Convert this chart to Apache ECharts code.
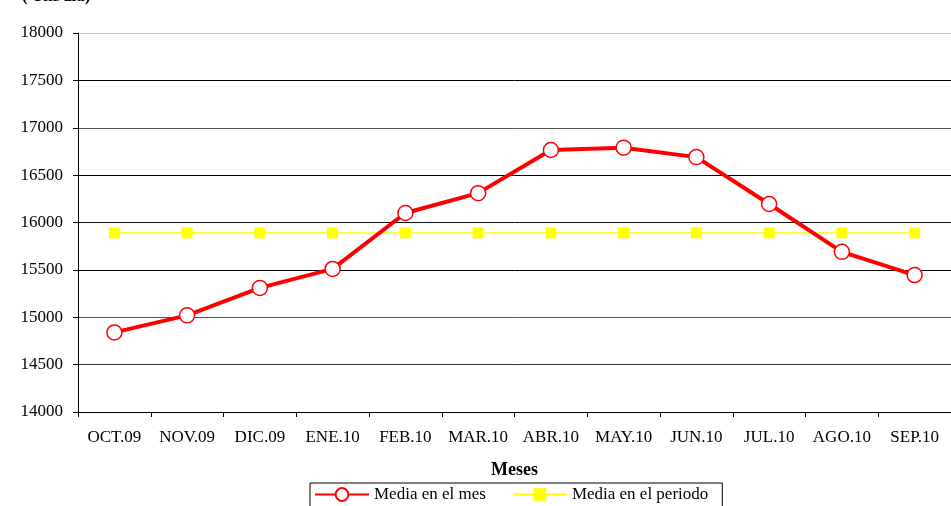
<!DOCTYPE html>
<html>
<head>
<meta charset="utf-8">
<script src="https://cdn.jsdelivr.net/npm/echarts@6/dist/echarts.min.js"></script>
<style>
  html, body { margin: 0; padding: 0; background: #fff; }
  #chart { width: 951px; height: 506px; }
</style>
</head>
<body>
<div id="chart"></div>
<script>
// Monthly average throughput (Tm/día), Oct 2009 – Sep 2010
const months = ['OCT.09', 'NOV.09', 'DIC.09', 'ENE.10', 'FEB.10', 'MAR.10',
                'ABR.10', 'MAY.10', 'JUN.10', 'JUL.10', 'AGO.10', 'SEP.10'];
const monthlyMean = [14840, 15020, 15310, 15510, 16100, 16310,
                     16765, 16790, 16690, 16195, 15690, 15445];
const periodMean = [15890, 15890, 15890, 15890, 15890, 15890,
                    15890, 15890, 15890, 15890, 15890, 15890];
const yTicks = { min: 14000, max: 18000, step: 500 };

const serif = '"Liberation Serif", "Times New Roman", serif';

const chart = echarts.init(document.getElementById('chart'), null, { renderer: 'canvas' });
chart.setOption({
  animation: false,
  backgroundColor: '#fff',
  textStyle: { fontFamily: serif, color: '#000' },
  grid: { left: 78, top: 33, right: -7, bottom: 94, containLabel: false },
  graphic: [
    { type: 'text', left: 22, top: -12,
      style: { text: '( Tm/día)', font: 'bold 17px ' + serif, fill: '#000' } }
  ],
  xAxis: {
    type: 'category',
    data: months,
    boundaryGap: true,
    name: 'Meses',
    nameLocation: 'middle',
    nameGap: 49,
    nameTextStyle: { fontFamily: serif, fontWeight: 'bold', fontSize: 18, color: '#000' },
    axisLine: { lineStyle: { color: '#000', width: 1 } },
    axisTick: { show: true, alignWithLabel: false, length: 5, lineStyle: { color: '#000' } },
    axisLabel: { fontFamily: serif, fontSize: 17, color: '#000', margin: 17, interval: 0 },
    splitLine: { show: false }
  },
  yAxis: {
    type: 'value',
    min: yTicks.min,
    max: yTicks.max,
    interval: yTicks.step,
    axisLine: { show: true, lineStyle: { color: '#000', width: 1 } },
    axisTick: { show: true, length: 5, lineStyle: { color: '#000' } },
    axisLabel: { fontFamily: serif, fontSize: 17, color: '#000', margin: 15,
                 formatter: v => String(v) },
    splitLine: { show: true, lineStyle: {
      color: ['#000', '#333', '#555', '#000', '#111', '#000', '#555', '#000', '#c0c0c0'],
      width: 1 } }
  },
  legend: {
    left: 310,
    top: 483,
    itemGap: 26,
    itemWidth: 54,
    itemHeight: 16,
    padding: [3, 14, 6, 4],
    borderColor: '#000',
    borderWidth: 1,
    borderRadius: 0,
    textStyle: { fontFamily: serif, fontSize: 17, color: '#000' },
    data: ['Media en el mes', 'Media en el periodo']
  },
  series: [
    {
      name: 'Media en el periodo',
      type: 'line',
      data: periodMean,
      symbol: 'rect',
      symbolSize: 11,
      itemStyle: { color: '#ffff00' },
      lineStyle: { color: '#ffff00', width: 1.5 },
      z: 2
    },
    {
      name: 'Media en el mes',
      type: 'line',
      data: monthlyMean,
      symbol: 'circle',
      symbolSize: 15,
      itemStyle: { color: '#fff', borderColor: '#ff0000', borderWidth: 1.5 },
      lineStyle: { color: '#ff0000', width: 4 },
      z: 3
    }
  ]
});
</script>
</body>
</html>
